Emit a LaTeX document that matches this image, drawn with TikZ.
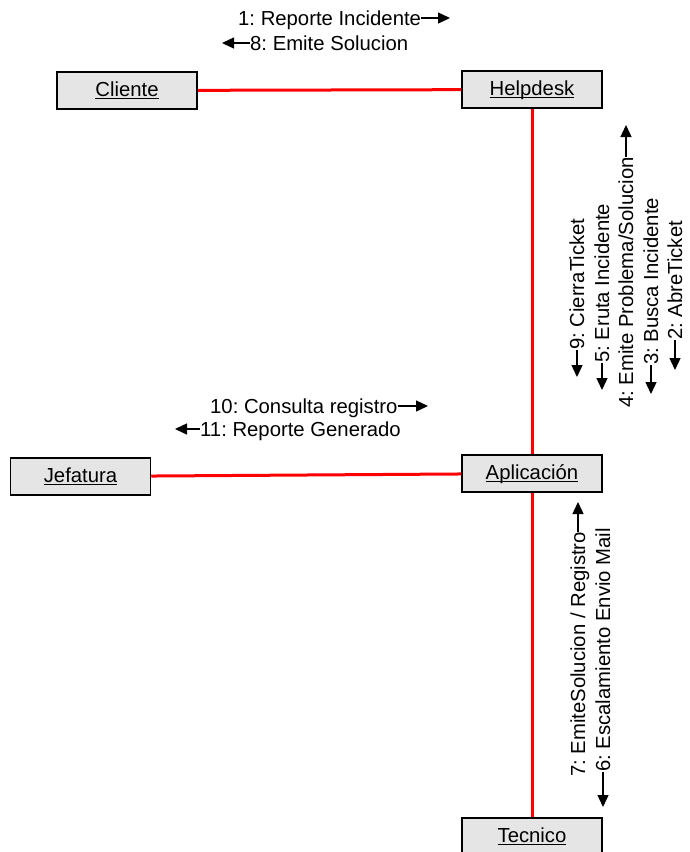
\documentclass[tikz,border=0pt]{standalone}
\usepackage{fontspec}
\setmainfont{Liberation Sans}
\usetikzlibrary{arrows.meta}
\definecolor{boxgray}{RGB}{229,229,229}
% underline at a fixed depth below the baseline
\newcommand\ulbox[1]{\setbox0\hbox{#1}\rlap{\rule[-2.6pt]{\wd0}{1.3pt}}\box0}
\frenchspacing
\begin{document}
\begin{tikzpicture}[x=1pt,y=-1pt,
  actor/.style={draw=black, line width=1.5pt, fill=boxgray,
    minimum width=140pt, minimum height=37pt, inner sep=0pt,
    text height=14.4pt, text depth=2pt, font=\fontsize{20.3}{24}\selectfont},
  link/.style={red, line width=3pt},
  msg/.style={inner sep=0pt, font=\fontsize{20.3}{24}\selectfont},
  vmsg/.style={msg, rotate=90},
  flow/.style={line width=1.4pt, -{Triangle[length=12pt,width=11pt]}}]
\useasboundingbox (0,0) rectangle (689,852);

% objects
\node[actor] (cli)  at (127,90.5)   {\ulbox{Cliente}};
\node[actor] (help) at (532,89.5)   {\ulbox{Helpdesk}};
\node[actor] (jef)  at (80.5,476.5) {\ulbox{Jefatura}};
\node[actor] (apl)  at (532,473.5)  {\ulbox{Aplicación}};
\node[actor] (tec)  at (532,836.5)  {\ulbox{Tecnico}};

% links between objects
\draw[link] (cli) -- (help);
\draw[link] (help) -- (apl);
\draw[link] (jef) -- (apl);
\draw[link] (apl) -- (tec);

% Cliente <-> Helpdesk messages
\node[msg, anchor=base west] (m1) at (238,25) {1: Reporte Incidente};
\coordinate (m1tip) at (450,18);
\draw[flow] ([yshift=7pt]m1.base east) -- (m1tip);
\node[msg, anchor=base west] (m8) at (250,50) {8: Emite Solucion};
\coordinate (m8tip) at (222,43);
\draw[flow] ([yshift=7pt]m8.base west) -- (m8tip);

% Jefatura <-> Aplicacion messages
\node[msg, anchor=base west] (m10) at (210,413) {10: Consulta registro};
\coordinate (m10tip) at (428,406);
\draw[flow] ([yshift=7pt]m10.base east) -- (m10tip);
\node[msg, anchor=base west] (m11) at (200,436) {11: Reporte Generado};
\coordinate (m11tip) at (175,429);
\draw[flow] ([yshift=7pt]m11.base west) -- (m11tip);

% Helpdesk <-> Aplicacion messages
\node[vmsg, anchor=base west] (m9) at (584,350) {9: CierraTicket};
\coordinate (m9tip) at (577,377);
\draw[flow] ([xshift=-7pt]m9.base west) -- (m9tip);
\node[vmsg, anchor=base west] (m5) at (609,363) {5: Eruta Incidente};
\coordinate (m5tip) at (602,390);
\draw[flow] ([xshift=-7pt]m5.base west) -- (m5tip);
\node[vmsg, anchor=base west] (m4) at (633,408) {4: Emite Problema/Solucion};
\coordinate (m4tip) at (626,125);
\draw[flow] ([xshift=-7pt]m4.base east) -- (m4tip);
\node[vmsg, anchor=base west] (m3) at (658,365) {3: Busca Incidente};
\coordinate (m3tip) at (651,394);
\draw[flow] ([xshift=-7pt]m3.base west) -- (m3tip);
\node[vmsg, anchor=base west] (m2) at (682,340) {2: AbreTicket};
\coordinate (m2tip) at (675,370);
\draw[flow] ([xshift=-7pt]m2.base west) -- (m2tip);

% Aplicacion <-> Tecnico messages
\node[vmsg, anchor=base west] (m7) at (585,777) {7: EmiteSolucion / Registro};
\coordinate (m7tip) at (578,502);
\draw[flow] ([xshift=-7pt]m7.base east) -- (m7tip);
\node[vmsg, anchor=base west] (m6) at (610,772) {6: Escalamiento Envio Mail};
\coordinate (m6tip) at (603,807);
\draw[flow] ([xshift=-7pt]m6.base west) -- (m6tip);
\end{tikzpicture}
\end{document}
